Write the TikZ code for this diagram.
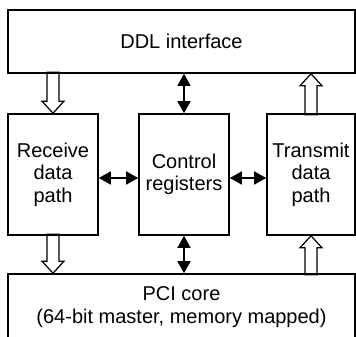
\documentclass[tikz,border=0pt]{standalone}
\usepackage{fontspec}
\setmainfont{Liberation Sans}
\usetikzlibrary{arrows.meta}
\tikzset{
  bloco/.style={draw, line width=1.6pt, align=center, inner sep=0pt,
    font=\fontsize{20}{22.5}\selectfont},
  duplaseta/.style={line width=1.6pt,
    {Triangle[width=13pt,length=12pt]}-{Triangle[width=13pt,length=12pt]}},
  vazada/.style={line width=1.2pt, line join=miter}
}
\begin{document}
\begin{tikzpicture}[x=1pt,y=-1pt]
        \useasboundingbox (0,0) rectangle (356,337);

        % Blocos
        \node[bloco, minimum width=347pt, minimum height=63pt] (ddl) at (181.5,41.5) {DDL interface};
        \node[bloco, minimum width=90pt, minimum height=121pt] (recv) at (53,174.5) {Receive\\data\\path};
        \node[bloco, minimum width=90pt, minimum height=121pt] (ctrl) at (184,174.5) {Control\\registers};
        \node[bloco, minimum width=88pt, minimum height=121pt] (tx) at (311,174.5) {Transmit\\data\\path};
        \node[bloco, minimum width=347pt, minimum height=66pt] (pci) at (181.5,307) {PCI core\\(64-bit master, memory mapped)};

        % Setas vazadas
        \draw[vazada] (recv.north) -- ++(-11,-12) -- ++(5,0) -- ++(0,-29) -- ++(12,0) -- ++(0,29) -- ++(5,0) -- cycle;
        \draw[vazada] (recv.south |- pci.north) -- ++(-11,-12) -- ++(5,0) -- ++(0,-27) -- ++(12,0) -- ++(0,27) -- ++(5,0) -- cycle;
        \draw[vazada] (tx.north |- ddl.south) -- ++(-11,12) -- ++(5,0) -- ++(0,29) -- ++(12,0) -- ++(0,-29) -- ++(5,0) -- cycle;
        \draw[vazada] (tx.south) -- ++(-11,12) -- ++(5,0) -- ++(0,27) -- ++(12,0) -- ++(0,-27) -- ++(5,0) -- cycle;

        % Setas duplas
        \draw[duplaseta] (ctrl.north) -- (ctrl.north |- ddl.south);
        \draw[duplaseta] (ctrl.south) -- (ctrl.south |- pci.north);
        \draw[duplaseta] ([yshift=-3.5pt]recv.east) -- ([yshift=-3.5pt]ctrl.west);
        \draw[duplaseta] ([yshift=-3.5pt]ctrl.east) -- ([yshift=-3.5pt]tx.west);
\end{tikzpicture}
\end{document}
